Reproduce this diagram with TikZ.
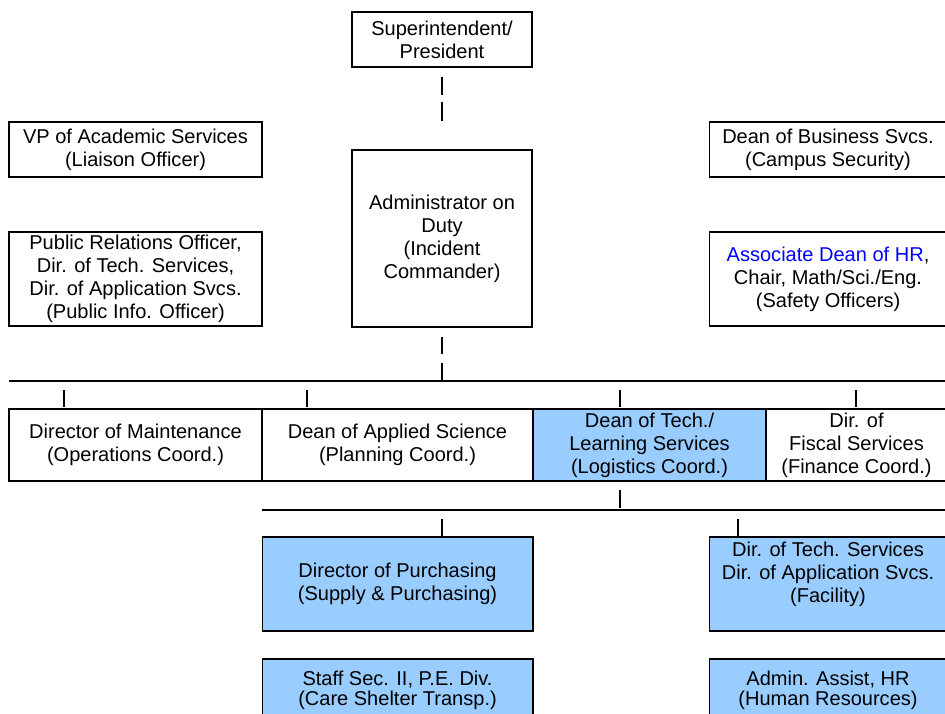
\documentclass[tikz,border=0pt]{standalone}
\usepackage{fontspec}
\setmainfont{Liberation Sans}
\definecolor{boxblue}{RGB}{153,204,255}
\definecolor{hrblue}{RGB}{0,0,255}
\begin{document}
\begin{tikzpicture}[x=0.02cm,y=-0.02cm,
  box/.style={draw=black,line width=0.6pt,inner sep=0pt,align=center,
    font=\fontsize{11.4}{13.1}\selectfont},
  bluebox/.style={box,fill=boxblue},
  tightbox/.style={bluebox,font=\fontsize{11.4}{11.6}\selectfont},
  conn/.style={draw=black,line width=0.6pt}]
\useasboundingbox (0,0) rectangle (945,713);
\clip (0,0) rectangle (945,713);
% top level
\node[box,minimum width=3.6cm,minimum height=1.1cm] (sup) at (442,39.5) {Superintendent/\\President};
\node[box,minimum width=3.6cm,minimum height=3.54cm] (adm) at (442,238.5) {Administrator on\\Duty\\(Incident\\Commander)};
\node[box,minimum width=5.06cm,minimum height=1.1cm] (vp) at (135.5,149.5) {VP of Academic Services\\(Liaison Officer)};
\node[box,minimum width=5.06cm,minimum height=1.88cm] (pr) at (135.5,279) {Public Relations Officer,\\Dir. of Tech. Services,\\Dir. of Application Svcs.\\(Public Info. Officer)};
\node[box,minimum width=4.76cm,minimum height=1.1cm] (dbs) at (828,149.5) {Dean of Business Svcs.\\(Campus Security)};
\node[box,minimum width=4.76cm,minimum height=1.88cm] (hr) at (828,279) {\textcolor{hrblue}{Associate Dean of HR},\\Chair, Math/Sci./Eng.\\(Safety Officers)};
% section row
\node[box,minimum width=5.06cm,minimum height=1.44cm] (mnt) at (135.5,445) {Director of Maintenance\\(Operations Coord.)};
\node[box,minimum width=5.42cm,minimum height=1.44cm] (aps) at (397.5,445) {Dean of Applied Science\\(Planning Coord.)};
\node[bluebox,minimum width=4.66cm,minimum height=1.44cm] (tech) at (649.5,445) {Dean of Tech./\\Learning Services\\(Logistics Coord.)};
\node[box,minimum width=3.62cm,minimum height=1.44cm] (fis) at (856.5,445) {Dir. of\\Fiscal Services\\(Finance Coord.)};
% logistics units
\node[bluebox,minimum width=5.42cm,minimum height=1.88cm] (pur) at (397.5,584) {Director of Purchasing\\(Supply \& Purchasing)};
\node[bluebox,minimum width=4.76cm,minimum height=1.88cm,
  label={[font=\fontsize{11.4}{13.1}\selectfont,align=center,yshift=0.2cm]center:Dir. of Tech. Services\\Dir. of Application Svcs.\\(Facility)}] (fac) at (828,584) {};
\node[tightbox,minimum width=5.42cm,minimum height=1.24cm] (stf) at (397.5,690) {Staff Sec. II, P.E. Div.\\(Care Shelter Transp.)};
\node[tightbox,minimum width=4.76cm,minimum height=1.24cm] (aa) at (828,690) {Admin. Assist, HR\\(Human Resources)};
% buses
\coordinate (bl) at (9,381);
\coordinate (br) at (947,381);
\coordinate (bl2) at (262,510);
\coordinate (br2) at (947,510);
\draw[conn] (bl) -- (br);
\draw[conn] (bl2) -- (br2);
% broken connectors
\draw[conn,dash pattern=on 0pt off 5.67pt on 10.2pt off 4pt on 10.8pt off 100pt] (sup.south) -- (adm.north);
\draw[conn,dash pattern=on 0pt off 5.67pt on 9.64pt off 5.1pt on 10.2pt off 100pt] (adm.south) -- (bl -| adm.south);
% ticks
\coordinate (t1) at (64,409);
\coordinate (t2) at (307,409);
\coordinate (t3) at (620,409);
\coordinate (t4) at (856,409);
\foreach \t in {t1,t2,t3,t4}
  \draw[conn,shorten <=0.18cm,shorten >=0.04cm] (bl -| \t) -- (\t);
\coordinate (t5) at (620,481);
\draw[conn,shorten <=0.18cm,shorten >=0.04cm] (t5) -- (bl2 -| t5);
\coordinate (t6) at (442,537);
\coordinate (t7) at (738,537);
\foreach \t in {t6,t7}
  \draw[conn,shorten <=0.18cm,shorten >=0.02cm] (bl2 -| \t) -- (\t);
\end{tikzpicture}
\end{document}
